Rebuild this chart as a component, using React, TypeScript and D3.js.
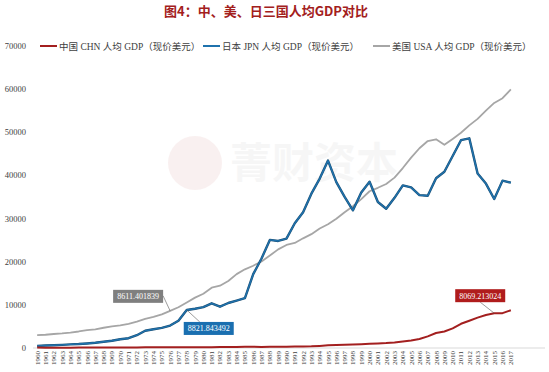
import React, { useEffect, useRef } from 'react';
import * as d3 from 'd3';

const years = d3.range(1960, 2018).map(String);

// 人均 GDP（现价美元）
const chn = [89.5, 75.8, 70.9, 74.3, 85.5, 98.5, 104.3, 96.6, 91.5, 100.1,
  113.2, 118.7, 131.9, 157.1, 160.1, 178.3, 165.4, 185.4, 156.4, 183.9,
  194.8, 197.1, 203.3, 225.4, 250.7, 294.5, 281.9, 251.8, 283.5, 310.9,
  317.9, 333.1, 366.5, 377.4, 473.5, 609.7, 709.4, 781.7, 828.6, 873.3,
  959.4, 1053.1, 1148.5, 1288.6, 1508.7, 1753.4, 2099.2, 2694.0, 3468.3, 3832.2,
  4550.5, 5618.1, 6316.9, 7050.6, 7651.4, 8069.2, 8078.9, 8759.0];

const jpn = [479.0, 563.6, 633.6, 717.9, 835.7, 919.8, 1058.5, 1228.9, 1450.6, 1669.1,
  2037.6, 2272.1, 2967.0, 3997.8, 4353.8, 4659.1, 5197.8, 6335.8, 8821.8, 9105.1,
  9465.4, 10361.3, 9578.1, 10425.4, 10984.9, 11584.6, 17111.9, 20745.3, 25051.9, 24813.3,
  25359.3, 28925.0, 31464.1, 35765.9, 39268.6, 43440.4, 38436.9, 35021.7, 31902.8, 36026.6,
  38532.0, 33846.5, 32289.4, 34808.4, 37688.7, 37217.7, 35434.0, 35275.2, 39339.3, 40855.2,
  44507.7, 48168.0, 48603.5, 40454.4, 38109.4, 34524.5, 38794.3, 38332.0];

const usa = [3007.1, 3066.6, 3243.8, 3374.5, 3573.9, 3827.5, 4146.3, 4336.4, 4695.9, 5032.1,
  5234.3, 5609.4, 6094.0, 6726.4, 7225.7, 7801.5, 8611.4, 9452.6, 10564.9, 11674.2,
  12575.0, 13976.1, 14433.8, 15543.9, 17121.2, 18236.8, 19071.2, 20038.9, 21417.0, 22857.2,
  23888.6, 24342.3, 25419.0, 26387.3, 27694.9, 28690.9, 29967.7, 31459.1, 32853.7, 34513.6,
  36334.9, 37133.2, 38023.2, 39496.5, 41712.8, 44114.7, 46298.7, 47976.0, 48382.6, 47100.0,
  48467.5, 49883.1, 51603.5, 53106.9, 55033.0, 56803.5, 57904.2, 59927.9];

const yTicks = [0, 10000, 20000, 30000, 40000, 50000, 60000, 70000];

const seriesNames = ['中国 CHN 人均 GDP（现价美元）', '日本 JPN 人均 GDP（现价美元）', '美国 USA 人均 GDP（现价美元）'];

// data labels: box offset and leader end, relative to the point
const callouts = [
  { text: '8611.401839', year: '1976', series: 2, bx: -57, by: -21, lx: -7, ly: -15, fill: '#7f7f7f' },
  { text: '8821.843492', year: '1978', series: 1, bx: -3, by: 12, lx: 13, ly: 12, fill: '#1a6fb0' },
  { text: '8069.213024', year: '2015', series: 0, bx: -39, by: -24, lx: -14, ly: -11, fill: '#b01c1c' },
];

const font = '"Liberation Serif", "Noto Sans CJK SC", serif';

const Chart = () => {
  const ref = useRef<SVGSVGElement | null>(null);

  useEffect(() => {
    if (!ref.current) return;
    const svg = d3.select(ref.current);
    svg.selectAll('*').remove();

    const x = d3.scaleBand().domain(years).range([33, 515]);
    const y = d3.scaleLinear().domain([0, 70000]).range([348, 46]);
    const cx = (yr: string) => (x(yr) as number) + x.bandwidth() / 2;

    // title
    svg.append('text')
      .attr('x', 266).attr('y', 16)
      .attr('text-anchor', 'middle')
      .attr('font-family', '"Noto Sans CJK SC", sans-serif')
      .attr('font-weight', 'bold')
      .attr('font-size', 13)
      .attr('fill', '#a3201c')
      .text('图4：中、美、日三国人均GDP对比');

    // watermark
    const wm = svg.append('g').attr('opacity', 0.08);
    wm.append('circle').attr('cx', 195).attr('cy', 163).attr('r', 27).attr('fill', '#c0504d');
    wm.append('text')
      .attr('x', 230).attr('y', 178)
      .attr('font-family', '"Noto Sans CJK SC", sans-serif')
      .attr('font-weight', 'bold')
      .attr('font-size', 42)
      .attr('fill', '#999')
      .text('菁财资本');

    // y axis labels
    svg.append('g')
      .selectAll('text')
      .data(yTicks)
      .enter()
      .append('text')
      .attr('x', 26)
      .attr('y', d => y(d) + 3)
      .attr('text-anchor', 'end')
      .attr('font-family', font)
      .attr('font-size', 8.5)
      .attr('fill', '#404040')
      .text(d => String(d));

    // x axis
    svg.append('line')
      .attr('x1', 33).attr('x2', 545)
      .attr('y1', y(0)).attr('y2', y(0))
      .attr('stroke', '#d9d9d9');

    svg.append('g')
      .selectAll('text')
      .data(years)
      .enter()
      .append('text')
      .attr('transform', d => `translate(${cx(d) + 2.5},351) rotate(-90)`)
      .attr('text-anchor', 'end')
      .attr('font-family', font)
      .attr('font-size', 7)
      .attr('fill', '#404040')
      .text(d => d);

    const allSeries = [chn, jpn, usa];
    const colors = ['#a31f1f', '#1f72ad', '#a6a6a6'];
    const widths = [2, 1.4, 1.8];

    const line = d3.line<number>()
      .x((_, i) => cx(years[i]))
      .y(d => y(d));

    // draw USA first, then JPN, then CHN on top
    [2, 1, 0].forEach(k => {
      if (k === 1) {
        svg.append('path')
          .attr('d', line(allSeries[k]))
          .attr('fill', 'none')
          .attr('stroke', '#1d4f73')
          .attr('stroke-width', 2.4)
          .attr('stroke-linejoin', 'round');
      }
      svg.append('path')
        .attr('d', line(allSeries[k]))
        .attr('fill', 'none')
        .attr('stroke', colors[k])
        .attr('stroke-width', widths[k])
        .attr('stroke-linejoin', 'round');
    });

    // legend
    const legendX = [40, 203, 373];
    seriesNames.forEach((name, i) => {
      const g = svg.append('g').attr('transform', `translate(${legendX[i]},46)`);
      g.append('line')
        .attr('x1', 0).attr('x2', 17)
        .attr('stroke', colors[i]).attr('stroke-width', 2);
      g.append('text')
        .attr('x', 19).attr('y', 3.5)
        .attr('font-family', font)
        .attr('font-size', 9.5)
        .attr('fill', '#404040')
        .text(name);
    });

    // callouts
    callouts.forEach(c => {
      const px = cx(c.year);
      const py = y(allSeries[c.series][years.indexOf(c.year)]);
      svg.append('line')
        .attr('x1', px).attr('y1', py)
        .attr('x2', px + c.lx).attr('y2', py + c.ly)
        .attr('stroke', '#595959').attr('stroke-width', 0.6);
      const w = 50, h = 13;
      const left = px + c.bx;
      const top = py + c.by;
      svg.append('rect')
        .attr('x', left).attr('y', top)
        .attr('width', w).attr('height', h)
        .attr('fill', c.fill);
      svg.append('text')
        .attr('x', left + w / 2).attr('y', top + 9.5)
        .attr('text-anchor', 'middle')
        .attr('font-family', font)
        .attr('font-size', 8)
        .attr('fill', '#fff')
        .text(c.text);
    });
  }, []);

  return (
    <svg
      ref={ref}
      width={549}
      height={372}
      style={{ position: 'absolute', left: 0, top: 0, background: '#fff' }}
    />
  );
};

export default function App() {
  return (
    <div>
      <Chart />
    </div>
  );
}
